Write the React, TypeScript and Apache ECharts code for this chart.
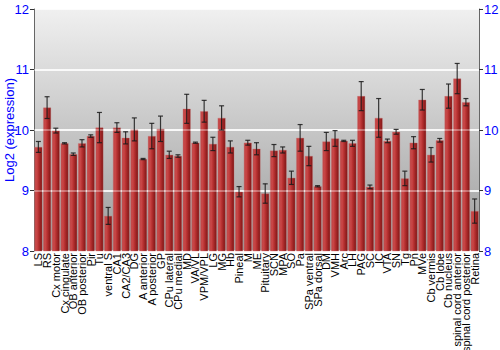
import React, { useEffect, useRef } from "react";
import * as echarts from "echarts";

const categories = [
  "LS", "RS", "Cx motor", "Cx cingulate", "OB anterior", "OB posterior", "Pir", "Tu",
  "ventral S", "CA1", "CA2/CA3", "DG", "A anterior", "A posterior", "GP", "CPu lateral",
  "CPu medial", "MD", "VA/VL", "VPM/VPL", "LG", "MG", "Hb", "Pineal", "M", "ME",
  "Pituitary", "SCN", "MPA", "SO", "Pa", "SPa ventral", "SPa dorsal", "DM", "VMH", "Arc",
  "LH", "PAG", "SC", "IC", "VTA", "SN", "Tg", "Pn", "MVe", "Cb vermis", "Cb lobe",
  "Cb nucleus", "spinal cord anterior", "spinal cord posterior", "Retina",
];

const values = [
  9.72, 10.37, 9.99, 9.78, 9.6, 9.78, 9.9, 10.04,
  8.58, 10.04, 9.87, 10.01, 9.52, 9.9, 10.02, 9.59,
  9.57, 10.35, 9.79, 10.31, 9.77, 10.2, 9.72, 8.98, 9.79, 9.69,
  8.95, 9.66, 9.67, 9.21, 9.87, 9.57, 9.07, 9.81, 9.86, 9.82,
  9.78, 10.56, 9.06, 10.2, 9.82, 9.97, 9.2, 9.79, 10.5, 9.59, 9.83,
  10.56, 10.85, 10.46, 8.66,
];

const errors = [
  0.09, 0.18, 0.04, 0.01, 0.02, 0.06, 0.02, 0.25,
  0.14, 0.08, 0.1, 0.19, 0.01, 0.21, 0.21, 0.06,
  0.02, 0.24, 0.01, 0.18, 0.11, 0.2, 0.1, 0.085, 0.04, 0.1,
  0.16, 0.1, 0.05, 0.11, 0.22, 0.16, 0.01, 0.15, 0.13, 0.01,
  0.05, 0.24, 0.03, 0.32, 0.03, 0.04, 0.12, 0.1, 0.17, 0.12, 0.03,
  0.2, 0.25, 0.06, 0.2,
];

const yTicks = [8, 12, 1]; // min, max, interval

export default function App() {
  const ref = useRef<HTMLDivElement>(null);
  useEffect(() => {
    if (!ref.current) return;
    const chart = echarts.init(ref.current, undefined, { renderer: "svg" });
    const errData = values.map((v, i) => [i, v - errors[i], v + errors[i]]);
    const axisLabelStyle = { color: "#0000ff", fontSize: 13, fontFamily: "Liberation Sans" };
    chart.setOption({
      animation: false,
      grid: {
        left: 34, right: 21, top: 9, bottom: 99,
        outerBoundsMode: "none",
        containLabel: false,
        show: true,
        borderWidth: 0,
        backgroundColor: new echarts.graphic.LinearGradient(0, 0, 0, 1, [
          { offset: 0, color: "#f0f0f0" },
          { offset: 1, color: "#9c9c9c" },
        ]),
      },
      xAxis: {
        type: "category",
        data: categories,
        axisLine: { show: false },
        axisTick: { show: false },
        axisLabel: {
          interval: 0, rotate: 90, fontSize: 11, color: "#000",
          fontFamily: "Liberation Sans", margin: 2,
        },
      },
      yAxis: [
        {
          type: "value", min: yTicks[0], max: yTicks[1], interval: yTicks[2],
          name: "Log2 (expression)", nameLocation: "middle", nameGap: 18,
          nameMoveOverlap: false,
          nameTextStyle: { color: "#0000ff", fontSize: 13, fontFamily: "Liberation Sans" },
          axisLine: { show: true, lineStyle: { color: "#666", width: 1 } },
          axisTick: { show: true, length: 4, lineStyle: { color: "#333" } },
          axisLabel: { ...axisLabelStyle, margin: 5 },
          splitLine: { show: true, lineStyle: { color: "#ffffff", width: 2, opacity: 0.8 } },
        },
        {
          type: "value", min: yTicks[0], max: yTicks[1], interval: yTicks[2],
          position: "right",
          axisLine: { show: true, lineStyle: { color: "#666", width: 1 } },
          axisTick: { show: true, length: 4, lineStyle: { color: "#333" } },
          axisLabel: { ...axisLabelStyle, margin: 5 },
          splitLine: { show: false },
        },
      ],
      series: [
        {
          type: "bar",
          data: values,
          barCategoryGap: "10%",
          itemStyle: {
            color: new echarts.graphic.LinearGradient(0, 0, 1, 0, [
              { offset: 0, color: "#c04848" },
              { offset: 0.3, color: "#c84545" },
              { offset: 0.5, color: "#b83232" },
              { offset: 1, color: "#7e1414" },
            ]),
            borderColor: "rgba(200,110,110,0.7)",
            borderWidth: 0.5,
          },
          markLine: {
            silent: true,
            symbol: "none",
            label: { show: false },
            lineStyle: { color: "rgba(255,255,255,0.45)", type: "solid", width: 1.5 },
            data: [{ yAxis: 9 }, { yAxis: 10 }, { yAxis: 11 }],
          },
        },
        {
          type: "custom",
          data: errData,
          z: 5,
          renderItem: (params: any, api: any) => {
            const x = api.value(0);
            const lo = api.coord([x, api.value(1)]);
            const hi = api.coord([x, api.value(2)]);
            const cx = lo[0];
            const hw = 2.5;
            const style = { stroke: "#1a1a1a", lineWidth: 1.2, opacity: 0.85 };
            return {
              type: "group",
              children: [
                { type: "line", shape: { x1: cx, y1: lo[1], x2: cx, y2: hi[1] }, style },
                { type: "line", shape: { x1: cx - hw, y1: lo[1], x2: cx + hw, y2: lo[1] }, style },
                { type: "line", shape: { x1: cx - hw, y1: hi[1], x2: cx + hw, y2: hi[1] }, style },
              ],
            };
          },
        },
      ],
    });
    return () => chart.dispose();
  }, []);
  return <div ref={ref} style={{ width: 500, height: 350, position: "absolute", left: 0, top: 0 }} />;
}
